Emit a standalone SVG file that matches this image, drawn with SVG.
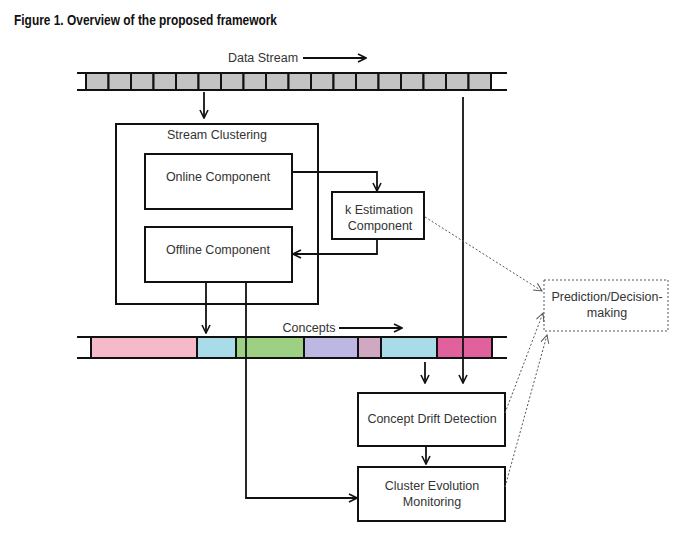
<svg xmlns="http://www.w3.org/2000/svg" width="676" height="538" viewBox="0 0 676 538">
<defs>
<style>
.t{font-family:"Liberation Sans",Arial,sans-serif;font-size:12.5px;fill:#333;text-anchor:middle}
.box{fill:#fff;stroke:#111;stroke-width:2}
.cell{fill:#c3c3c3;stroke:#111;stroke-width:2}
.rail{stroke:#111;stroke-width:2}
.ln{fill:none;stroke:#111;stroke-width:1.8}
.dot{fill:none;stroke:#555;stroke-width:1;stroke-dasharray:2,2}
</style>
<marker id="ah" viewBox="0 0 10 10" refX="9" refY="5" markerWidth="10" markerHeight="10" markerUnits="userSpaceOnUse" orient="auto">
<path d="M1,1 L9,5 L1,9" fill="none" stroke="#111" stroke-width="1.6"/>
</marker>
<marker id="ahd" viewBox="0 0 10 10" refX="9" refY="5" markerWidth="10" markerHeight="10" markerUnits="userSpaceOnUse" orient="auto">
<path d="M1,1 L9,5 L1,9" fill="none" stroke="#555" stroke-width="1"/>
</marker>
</defs>
<rect width="676" height="538" fill="#fff"/>
<text x="14" y="25" font-family="'Liberation Sans',Arial,sans-serif" font-weight="bold" font-size="14" fill="#111" textLength="263" lengthAdjust="spacingAndGlyphs">Figure 1. Overview of the proposed framework</text>

<g id="data-stream">
<text class="t" x="263" y="62">Data Stream</text>
<line class="rail" x1="77" y1="73" x2="507" y2="73"/>
<line class="rail" x1="77" y1="90" x2="507" y2="90"/>
<rect class="cell" x="86" y="73" width="22.5" height="17"/>
<rect class="cell" x="108.5" y="73" width="22.5" height="17"/>
<rect class="cell" x="131" y="73" width="22.5" height="17"/>
<rect class="cell" x="153.5" y="73" width="22.5" height="17"/>
<rect class="cell" x="176" y="73" width="22.5" height="17"/>
<rect class="cell" x="198.5" y="73" width="22.5" height="17"/>
<rect class="cell" x="221" y="73" width="22.5" height="17"/>
<rect class="cell" x="243.5" y="73" width="22.5" height="17"/>
<rect class="cell" x="266" y="73" width="22.5" height="17"/>
<rect class="cell" x="288.5" y="73" width="22.5" height="17"/>
<rect class="cell" x="311" y="73" width="22.5" height="17"/>
<rect class="cell" x="333.5" y="73" width="22.5" height="17"/>
<rect class="cell" x="356" y="73" width="22.5" height="17"/>
<rect class="cell" x="378.5" y="73" width="22.5" height="17"/>
<rect class="cell" x="401" y="73" width="22.5" height="17"/>
<rect class="cell" x="423.5" y="73" width="22.5" height="17"/>
<rect class="cell" x="446" y="73" width="22.5" height="17"/>
<rect class="cell" x="468.5" y="73" width="22.5" height="17"/>
</g>

<g id="concepts">
<text class="t" x="309" y="332">Concepts</text>
<line class="rail" x1="77" y1="337" x2="507" y2="337"/>
<line class="rail" x1="77" y1="358" x2="507" y2="358"/>
<rect x="91" y="337" width="106" height="21" fill="#f6b9c9" stroke="#111" stroke-width="2"/>
<rect x="197" y="337" width="39" height="21" fill="#a9dbe8" stroke="#111" stroke-width="2"/>
<rect x="236" y="337" width="68" height="21" fill="#9dd083" stroke="#111" stroke-width="2"/>
<rect x="304" y="337" width="54" height="21" fill="#bdb8e3" stroke="#111" stroke-width="2"/>
<rect x="358" y="337" width="23" height="21" fill="#d1a8c2" stroke="#111" stroke-width="2"/>
<rect x="381" y="337" width="56" height="21" fill="#a9dbe8" stroke="#111" stroke-width="2"/>
<rect x="437" y="337" width="55" height="21" fill="#e0619b" stroke="#111" stroke-width="2"/>
</g>

<g id="stream-clustering">
<rect class="box" x="116" y="124" width="202" height="180" fill="none"/>
<text class="t" x="217" y="139">Stream Clustering</text>
</g>
<g id="online-component">
<rect class="box" x="145" y="154" width="147" height="55"/>
<text class="t" x="218" y="181">Online Component</text>
</g>
<g id="offline-component">
<rect class="box" x="145" y="227" width="147" height="55"/>
<text class="t" x="218" y="254">Offline Component</text>
</g>
<g id="k-estimation">
<rect class="box" x="332" y="192" width="92" height="47"/>
<text class="t" x="379" y="214">k Estimation</text>
<text class="t" x="380" y="230">Component</text>
</g>
<g id="concept-drift">
<rect class="box" x="358" y="393" width="147" height="53"/>
<text class="t" x="432" y="423">Concept Drift Detection</text>
</g>
<g id="cluster-evolution">
<rect class="box" x="358" y="467" width="147" height="54"/>
<text class="t" x="432" y="490">Cluster Evolution</text>
<text class="t" x="432" y="506">Monitoring</text>
</g>
<g id="prediction">
<rect x="544" y="280" width="124" height="51" fill="#fff" stroke="#555" stroke-width="1" stroke-dasharray="2,2"/>
<text class="t" x="607" y="301">Prediction/Decision-</text>
<text class="t" x="607" y="317">making</text>
</g>

<g id="connectors">
<line class="ln" x1="303" y1="58" x2="366" y2="58" marker-end="url(#ah)"/>
<line class="ln" x1="339" y1="328" x2="402" y2="328" marker-end="url(#ah)"/>
<line class="ln" x1="204" y1="92" x2="204" y2="118" marker-end="url(#ah)"/>
<polyline class="ln" points="292,172 377,172 377,191" marker-end="url(#ah)"/>
<polyline class="ln" points="377,239 377,254 293,254" marker-end="url(#ah)"/>
<line class="ln" x1="206" y1="282" x2="206" y2="333" marker-end="url(#ah)"/>
<polyline class="ln" points="246,282 246,498 357,498" marker-end="url(#ah)"/>
<line class="ln" x1="463" y1="97" x2="463" y2="383" marker-end="url(#ah)"/>
<line class="ln" x1="425" y1="362" x2="425" y2="383" marker-end="url(#ah)"/>
<line class="ln" x1="426" y1="446" x2="426" y2="464" marker-end="url(#ah)"/>
<line class="dot" x1="425" y1="217" x2="542" y2="291" marker-end="url(#ahd)"/>
<line class="dot" x1="505" y1="413" x2="543" y2="313" marker-end="url(#ahd)"/>
<line class="dot" x1="505" y1="487" x2="547" y2="335" marker-end="url(#ahd)"/>
</g>
</svg>
